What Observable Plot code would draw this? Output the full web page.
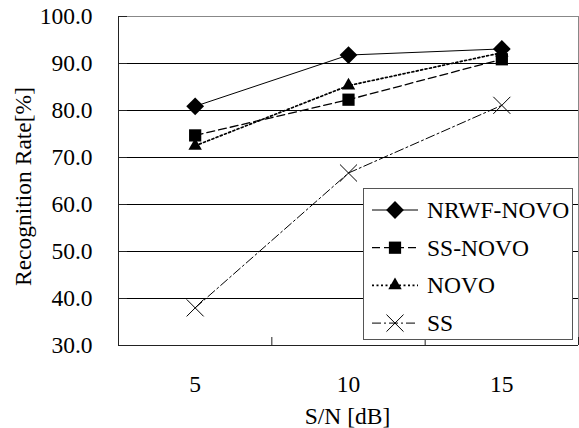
<!DOCTYPE html>
<html><head><meta charset="utf-8">
<script src="https://cdn.jsdelivr.net/npm/d3@7"></script>
<script src="https://cdn.jsdelivr.net/npm/@observablehq/plot@0.6"></script>
<style>
body{margin:0;background:#fff;}
#wrap{position:relative;width:579px;height:428px;font-family:"Liberation Serif","Times New Roman",serif;}
#legend{position:absolute;left:363px;top:188px;}
</style></head><body><div id="wrap"></div>
<script>
// ---- data ----
const snr = [5, 10, 15];
const xTickLabels = ["5", "10", "15"];
const seriesNames = ["NRWF-NOVO", "SS-NOVO", "NOVO", "SS"];
const nrwfNovo = [80.9, 91.8, 93.1];
const ssNovo = [74.7, 82.3, 90.9];
const novo = [72.5, 85.3, 92.3];
const ss = [38.0, 66.7, 81.1];
const yTicks = [30, 40, 50, 60, 70, 80, 90, 100];
const xLabel = "S/N [dB]";
const yLabel = "Recognition Rate[%]";

const seriesValues = {"NRWF-NOVO": nrwfNovo, "SS-NOVO": ssNovo, "NOVO": novo, "SS": ss};
const data = seriesNames.flatMap(name => snr.map((s, i) => ({series: name, snr: s, value: seriesValues[name][i]})));

const styles = {
  "NRWF-NOVO": {symbol: "diamond2", d3sym: d3.symbolDiamond2, dash: null, width: 1, r: 8, fill: "black"},
  "SS-NOVO": {symbol: "square", d3sym: d3.symbolSquare, dash: "8,4", width: 1.3, r: 6.9, fill: "black"},
  "NOVO": {symbol: "triangle", d3sym: d3.symbolTriangle, dash: "2,2.5", width: 1.7, r: 5, fill: "black"},
  "SS": {symbol: "times", d3sym: d3.symbolTimes, dash: "9,3,2,3", width: 1, r: 7.8, fill: "none"}
};

// category boundaries (half-way between S/N values)
const xDomain = [2.5, 17.5];
const xBoundaries = [2.5, 7.5, 12.5, 17.5];
const FONT = "'Liberation Serif','Times New Roman',serif";
const FS = 23.5;

const marks = [
  Plot.gridY(yTicks.filter(v => v > 30 && v < 100), {stroke: "black", strokeOpacity: 1}),
  Plot.ruleY([100], {stroke: "#888"}),
  Plot.ruleX([17.5], {stroke: "#888"}),
  Plot.ruleY([30], {stroke: "#222"}),
  Plot.ruleX([2.5], {stroke: "#222"}),
  Plot.axisY({ticks: yTicks, tickSize: -9, tickFormat: () => "", label: null, stroke: "#222"}),
  Plot.axisX({ticks: xBoundaries, tickSize: -8, tickFormat: () => "", label: null, stroke: "#222"}),
  Plot.axisY({ticks: yTicks, tickSize: 0, tickPadding: 26, tickFormat: d => d.toFixed(1), label: null, fontSize: FS}),
  Plot.axisX({ticks: snr, tickSize: 0, tickPadding: 30, tickFormat: d => xTickLabels[snr.indexOf(d)], label: null, fontSize: FS}),
  Plot.text([yLabel], {text: d => d, frameAnchor: "left", textAnchor: "middle", rotate: -90, lineAnchor: "middle", dx: -95.5, dy: 5.5, fontSize: FS, fill: "black"}),
  Plot.text([xLabel], {text: d => d, frameAnchor: "bottom", textAnchor: "middle", lineAnchor: "middle", dx: -1, dy: 71, fontSize: FS, fill: "black"})
];
for (const name of seriesNames) {
  const st = styles[name];
  const rows = data.filter(d => d.series === name);
  marks.push(Plot.line(rows, {x: "snr", y: "value", stroke: "black", strokeWidth: st.width, strokeDasharray: st.dash}));
}
for (const name of seriesNames) {
  const st = styles[name];
  const rows = data.filter(d => d.series === name);
  marks.push(Plot.dot(rows, {x: "snr", y: "value", symbol: () => st.symbol, r: st.r, fill: st.fill, stroke: "black", strokeWidth: st.fill === "none" ? 1 : 0}));
}

const chart = Plot.plot({
  width: 579, height: 428,
  marginLeft: 118, marginRight: 1, marginTop: 16, marginBottom: 83,
  x: {type: "linear", domain: xDomain},
  y: {type: "linear", domain: [30, 100]},
  symbol: {type: "identity"},
  style: {fontFamily: FONT, fontSize: FS + "px", color: "black", background: "white", overflow: "visible"},
  marks
});
const wrap = document.getElementById("wrap");
wrap.appendChild(chart);

// ---- legend ----
const lw = 210, lh = 152;
const leg = d3.create("svg").attr("id", "legend").attr("width", lw).attr("height", lh)
  .style("font-family", FONT).style("font-size", FS + "px");
leg.append("rect").attr("x", 0.5).attr("y", 0.5).attr("width", lw - 1).attr("height", lh - 1)
  .attr("fill", "white").attr("stroke", "#555");
seriesNames.forEach((name, i) => {
  const st = styles[name];
  const cy = 22 + i * 37.7;
  const g = leg.append("g");
  g.append("line").attr("x1", 9).attr("x2", 55).attr("y1", cy).attr("y2", cy)
    .attr("stroke", "black").attr("stroke-width", st.width).attr("stroke-dasharray", st.dash);
  g.append("path").attr("transform", `translate(32,${cy})`)
    .attr("d", d3.symbol(st.d3sym, Math.PI * st.r * st.r)())
    .attr("fill", st.fill).attr("stroke", st.fill === "none" ? "black" : "none");
  g.append("text").attr("x", 64).attr("y", cy + 8).attr("fill", "black").text(name);
});
wrap.appendChild(leg.node());
</script></body></html>
